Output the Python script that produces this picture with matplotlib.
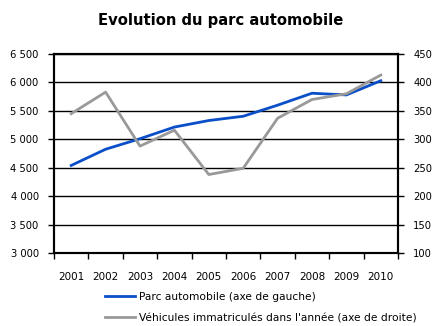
import matplotlib
matplotlib.use("Agg")
import matplotlib.pyplot as plt
from matplotlib.ticker import FuncFormatter, FixedLocator
from matplotlib.lines import Line2D

years = ["2001", "2002", "2003", "2004", "2005", "2006", "2007", "2008", "2009", "2010"]
parc = [4540, 4825, 5010, 5215, 5330, 5405, 5600, 5810, 5780, 6030]
immat = [345, 383, 288, 316, 238, 249, 337, 370, 380, 413]

title = "Evolution du parc automobile"
label_parc = "Parc automobile (axe de gauche)"
label_immat = "Véhicules immatriculés dans l'année (axe de droite)"

blue = "#0a4fc8"
grey = "#999999"

plt.rcParams["font.family"] = ["DejaVu Sans"]

fig = plt.figure(figsize=(4.35, 3.26), dpi=100)
ax = fig.add_axes([54 / 435, 1 - 253 / 326, 344 / 435, 199 / 326])
ax2 = ax.twinx()

x = list(range(len(years)))
ax.plot(x, parc, color=blue, lw=2.0, zorder=3)
ax2.plot(x, immat, color=grey, lw=2.0, zorder=3)

ax.set_xlim(-0.5, len(years) - 0.5)
ax.set_ylim(3000, 6500)
ax2.set_ylim(100, 450)
ax.set_yticks(range(3000, 6501, 500))
ax2.set_yticks(range(100, 451, 50))
ax.yaxis.set_major_formatter(FuncFormatter(lambda v, p: f"{int(v):,}".replace(",", " ")))

ax.xaxis.set_major_locator(FixedLocator([i - 0.5 for i in range(len(years) + 1)]))
ax.xaxis.set_minor_locator(FixedLocator(x))
ax.set_xticklabels([])
ax.set_xticklabels(years, minor=True)
ax.tick_params(axis="x", which="major", length=4, width=1, direction="out")
ax.tick_params(axis="x", which="minor", length=0, pad=14, labelsize=7.5)
ax.tick_params(axis="y", length=4, width=1, labelsize=7.2, pad=7)
ax2.tick_params(axis="y", length=4, width=1, labelsize=7.2, pad=7)

ax.grid(axis="y", color="black", lw=1.0)
ax.set_axisbelow(True)
for a in (ax, ax2):
    for s in a.spines.values():
        s.set_linewidth(1.5)
        s.set_color("black")

fig.text(221 / 435, 1 - 20 / 326, title, ha="center", va="center",
         fontsize=10.6, fontweight="bold")

handles = [Line2D([], [], color=blue, lw=2.0), Line2D([], [], color=grey, lw=2.0)]
fig.legend(handles, [label_parc, label_immat], loc="upper left",
           bbox_to_anchor=(105 / 435, 1 - 292 / 326), frameon=False,
           fontsize=7.7, handlelength=2.8, handletextpad=0.4, labelspacing=1.05,
           borderpad=0, borderaxespad=0)

fig.savefig("out.png", dpi=100)
